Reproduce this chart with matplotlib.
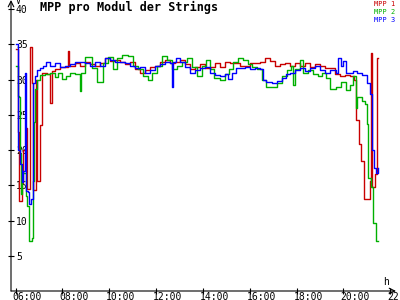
import matplotlib
matplotlib.use('Agg')
import matplotlib.pyplot as plt
import matplotlib.transforms as mtransforms

plt.rcParams['font.family'] = ['DejaVu Sans Mono']

# MPP 1 (red): time in hours, value in V
t1 = [6.03, 6.08, 6.14, 6.25, 6.31, 6.42, 6.48, 6.61, 6.68, 6.74, 6.85, 6.91,
      7.04, 7.12, 7.34, 7.47, 7.55, 7.68, 7.89, 8.24, 8.28, 8.53, 8.75, 8.96,
      9.17, 9.39, 9.60, 9.81, 10.03, 10.24, 10.46, 10.67, 10.88, 11.10, 11.31,
      11.52, 11.74, 11.95, 12.17, 12.38, 12.59, 12.81, 13.02, 13.24, 13.45,
      13.67, 13.88, 14.09, 14.31, 14.52, 14.73, 14.95, 15.16, 15.59, 16.01,
      16.44, 16.65, 16.86, 17.08, 17.30, 17.51, 17.72, 17.94, 18.15, 18.36,
      18.58, 18.79, 19.00, 19.22, 19.43, 19.65, 19.86, 20.07, 20.29, 20.46,
      20.55, 20.65, 20.76, 20.87, 21.14, 21.19, 21.24, 21.35, 21.42, 21.50]
v1 = [34.4, 22.5, 12.8, 15.3, 20.0, 23.2, 14.5, 34.6, 29.5, 14.4, 30.0, 15.6,
      23.6, 31.0, 30.8, 26.7, 31.2, 31.5, 31.8, 34.0, 32.0, 32.3, 32.0, 32.5,
      32.2, 32.0, 32.3, 33.0, 32.6, 32.8, 32.5, 32.2, 32.5, 31.5, 31.0,
      31.3, 31.8, 32.0, 32.5, 32.8, 32.3, 32.5, 32.8, 32.2, 31.5,
      31.8, 32.2, 31.6, 31.8, 32.3, 31.8, 32.5, 32.3, 32.0, 32.3,
      32.5, 33.0, 32.6, 32.0, 32.2, 32.4, 31.9, 32.3, 32.0, 32.4,
      31.8, 32.2, 32.0, 31.7, 31.6, 30.8, 30.5, 30.7, 30.5, 30.0,
      24.2, 20.8, 18.5, 13.0, 15.6, 33.8, 14.7, 16.6, 33.0, 33.0]

# MPP 2 (green)
t2 = [6.03, 6.08, 6.14, 6.18, 6.23, 6.27, 6.42, 6.46, 6.50, 6.55, 6.70, 6.74,
      6.78, 6.83, 6.91, 7.04, 7.25, 7.47, 7.68, 7.81, 7.98, 8.15, 8.32, 8.53,
      8.75, 8.79, 8.96, 9.26, 9.47, 9.73, 9.94, 10.15, 10.33, 10.54, 10.80,
      11.01, 11.23, 11.44, 11.65, 11.82, 12.04, 12.25, 12.46, 12.68, 12.89,
      13.10, 13.31, 13.53, 13.74, 13.96, 14.13, 14.31, 14.48, 14.73, 14.95,
      15.12, 15.29, 15.50, 15.72, 15.93, 16.10, 16.31, 16.53, 16.70, 16.95,
      17.17, 17.38, 17.60, 17.77, 17.85, 17.94, 18.15, 18.28, 18.49, 18.71,
      18.92, 19.09, 19.26, 19.43, 19.69, 19.90, 20.11, 20.29, 20.42, 20.55,
      20.59, 20.80, 20.93, 20.99, 21.06, 21.19, 21.27, 21.38, 21.50]
v2 = [32.0, 27.7, 27.5, 19.5, 13.8, 16.8, 16.8, 13.5, 12.1, 7.1, 7.5, 15.6,
      24.0, 28.7, 30.0, 30.6, 30.8, 31.0, 30.4, 30.9, 30.1, 30.5, 31.0, 30.8,
      28.4, 31.0, 33.2, 31.6, 29.6, 32.3, 33.2, 31.5, 33.0, 33.5, 33.3,
      32.0, 31.5, 30.5, 30.0, 31.0, 32.0, 33.4, 32.8, 31.5, 32.0,
      32.5, 33.0, 31.8, 30.5, 32.0, 32.8, 31.5, 30.3, 30.0, 30.8,
      31.5, 32.5, 33.0, 32.8, 32.2, 31.8, 31.5, 30.0, 29.0, 28.9,
      29.5, 30.5, 31.3, 32.0, 29.2, 31.5, 32.8, 31.0, 31.3, 30.8,
      30.5, 31.0, 30.2, 28.6, 28.9, 29.6, 28.5, 29.2, 30.5, 26.0,
      27.5, 27.0, 26.5, 23.7, 16.0, 14.7, 9.7, 7.1, 7.1]

# MPP 3 (blue)
t3 = [6.03, 6.08, 6.12, 6.18, 6.25, 6.31, 6.38, 6.42, 6.46, 6.53, 6.59, 6.65,
      6.72, 6.76, 6.82, 6.89, 7.04, 7.17, 7.30, 7.47, 7.68, 7.89, 8.11, 8.32,
      8.53, 8.75, 8.96, 9.17, 9.39, 9.60, 9.81, 10.03, 10.24, 10.46, 10.67,
      10.88, 11.10, 11.31, 11.52, 11.74, 11.95, 12.17, 12.38, 12.59, 12.70,
      12.74, 12.85, 13.02, 13.24, 13.45, 13.67, 13.88, 14.09, 14.31, 14.52,
      14.73, 14.95, 15.08, 15.25, 15.42, 15.59, 15.80, 16.01, 16.22, 16.44,
      16.57, 16.70, 16.95, 17.17, 17.38, 17.55, 17.72, 17.94, 18.15, 18.36,
      18.58, 18.79, 19.00, 19.22, 19.43, 19.69, 19.77, 19.90, 19.99, 20.11,
      20.29, 20.42, 20.59, 20.80, 21.02, 21.14, 21.23, 21.31, 21.38, 21.50]
v3 = [35.0, 22.7, 20.0, 18.0, 15.5, 17.0, 31.0, 22.0, 14.2, 14.0, 12.4, 13.0,
      25.0, 29.5, 30.5, 31.3, 31.6, 32.0, 32.5, 32.0, 32.3, 31.8, 32.0, 32.2,
      32.5, 32.5, 32.3, 32.0, 32.5, 32.0, 33.0, 32.8, 32.5, 32.5, 32.3,
      32.0, 31.6, 31.8, 31.0, 31.4, 32.0, 32.2, 32.5, 32.3, 28.9,
      32.5, 33.0, 32.5, 31.8, 30.9, 31.3, 31.6, 31.8, 31.0, 30.6,
      30.5, 30.8, 30.1, 31.0, 31.6, 31.6, 31.8, 31.5, 31.7, 31.5,
      30.0, 29.6, 29.5, 29.8, 30.3, 30.8, 31.0, 31.3, 31.6, 31.2,
      31.6, 31.9, 31.4, 31.0, 31.3, 31.0, 33.0, 32.0, 32.6, 31.0,
      31.0, 31.2, 31.0, 30.6, 29.5, 28.0, 20.0, 17.5, 16.8, 17.5]

hours = [6, 8, 10, 12, 14, 16, 18, 20, 22]
hour_labels = ['06:00', '08:00', '10:00', '12:00', '14:00', '16:00',
               '18:00', '20:00', '22:00']
volts = [5, 10, 15, 20, 25, 30, 35, 40]

red = '#c80000'
green = '#00b000'
blue = '#0000ff'

fig = plt.figure(figsize=(4, 3), dpi=100)
ax = fig.add_axes([11 / 400, 9 / 300, 385 / 400, 291 / 300])

ax.plot(t1, v1, color=red, lw=1.0, drawstyle='steps-post')
ax.plot(t2, v2, color=green, lw=1.0, drawstyle='steps-post')
ax.plot(t3, v3, color=blue, lw=1.0, drawstyle='steps-post')

ax.set_xlim(5.80, 22.25)
ax.set_ylim(0, 41.3)

# axes drawn as arrows instead of spines
for s in ax.spines.values():
    s.set_visible(False)
ax.annotate('', xy=(1, 0), xytext=(0, 0), xycoords='axes fraction',
            arrowprops=dict(arrowstyle='->', lw=0.8, color='black',
                            shrinkA=0, shrinkB=0))
ax.annotate('', xy=(0, 1), xytext=(0, 0), xycoords='axes fraction',
            arrowprops=dict(arrowstyle='->', lw=0.8, color='black',
                            shrinkA=0, shrinkB=0))

ax.set_xticks(hours)
ax.set_xticklabels(hour_labels)
ax.set_yticks(volts)
ax.set_yticklabels([str(v) for v in volts])
ax.tick_params(axis='both', direction='inout', length=5, width=0.8,
               labelsize=7)
ax.tick_params(axis='x', pad=-1.5)
ax.tick_params(axis='y', pad=-6)
for lbl in ax.get_yticklabels():
    lbl.set_ha('left')

# x labels start just left of their tick
offset = mtransforms.ScaledTranslation(-3 / 100, 0, fig.dpi_scale_trans)
for lbl in ax.get_xticklabels():
    lbl.set_ha('left')
    lbl.set_transform(lbl.get_transform() + offset)

fig.text(40 / 400, 1 - 7 / 300, 'MPP pro Modul der Strings', fontsize=8.5,
         fontweight='bold', va='center', ha='left')
fig.text(386 / 400, 1 - 282 / 300, 'h', fontsize=7, va='center', ha='center')
fig.text(18 / 400, 1 - 2 / 300, 'V', fontsize=6, va='center', ha='center')

# legend as stacked coloured texts
fig.text(395 / 400, 1 - 0.5 / 300, 'MPP 1', color=red, fontsize=5,
         ha='right', va='top')
fig.text(395 / 400, 1 - 8.5 / 300, 'MPP 2', color=green, fontsize=5,
         ha='right', va='top')
fig.text(395 / 400, 1 - 16.5 / 300, 'MPP 3', color=blue, fontsize=5,
         ha='right', va='top')

plt.savefig('out.png', dpi=100)
